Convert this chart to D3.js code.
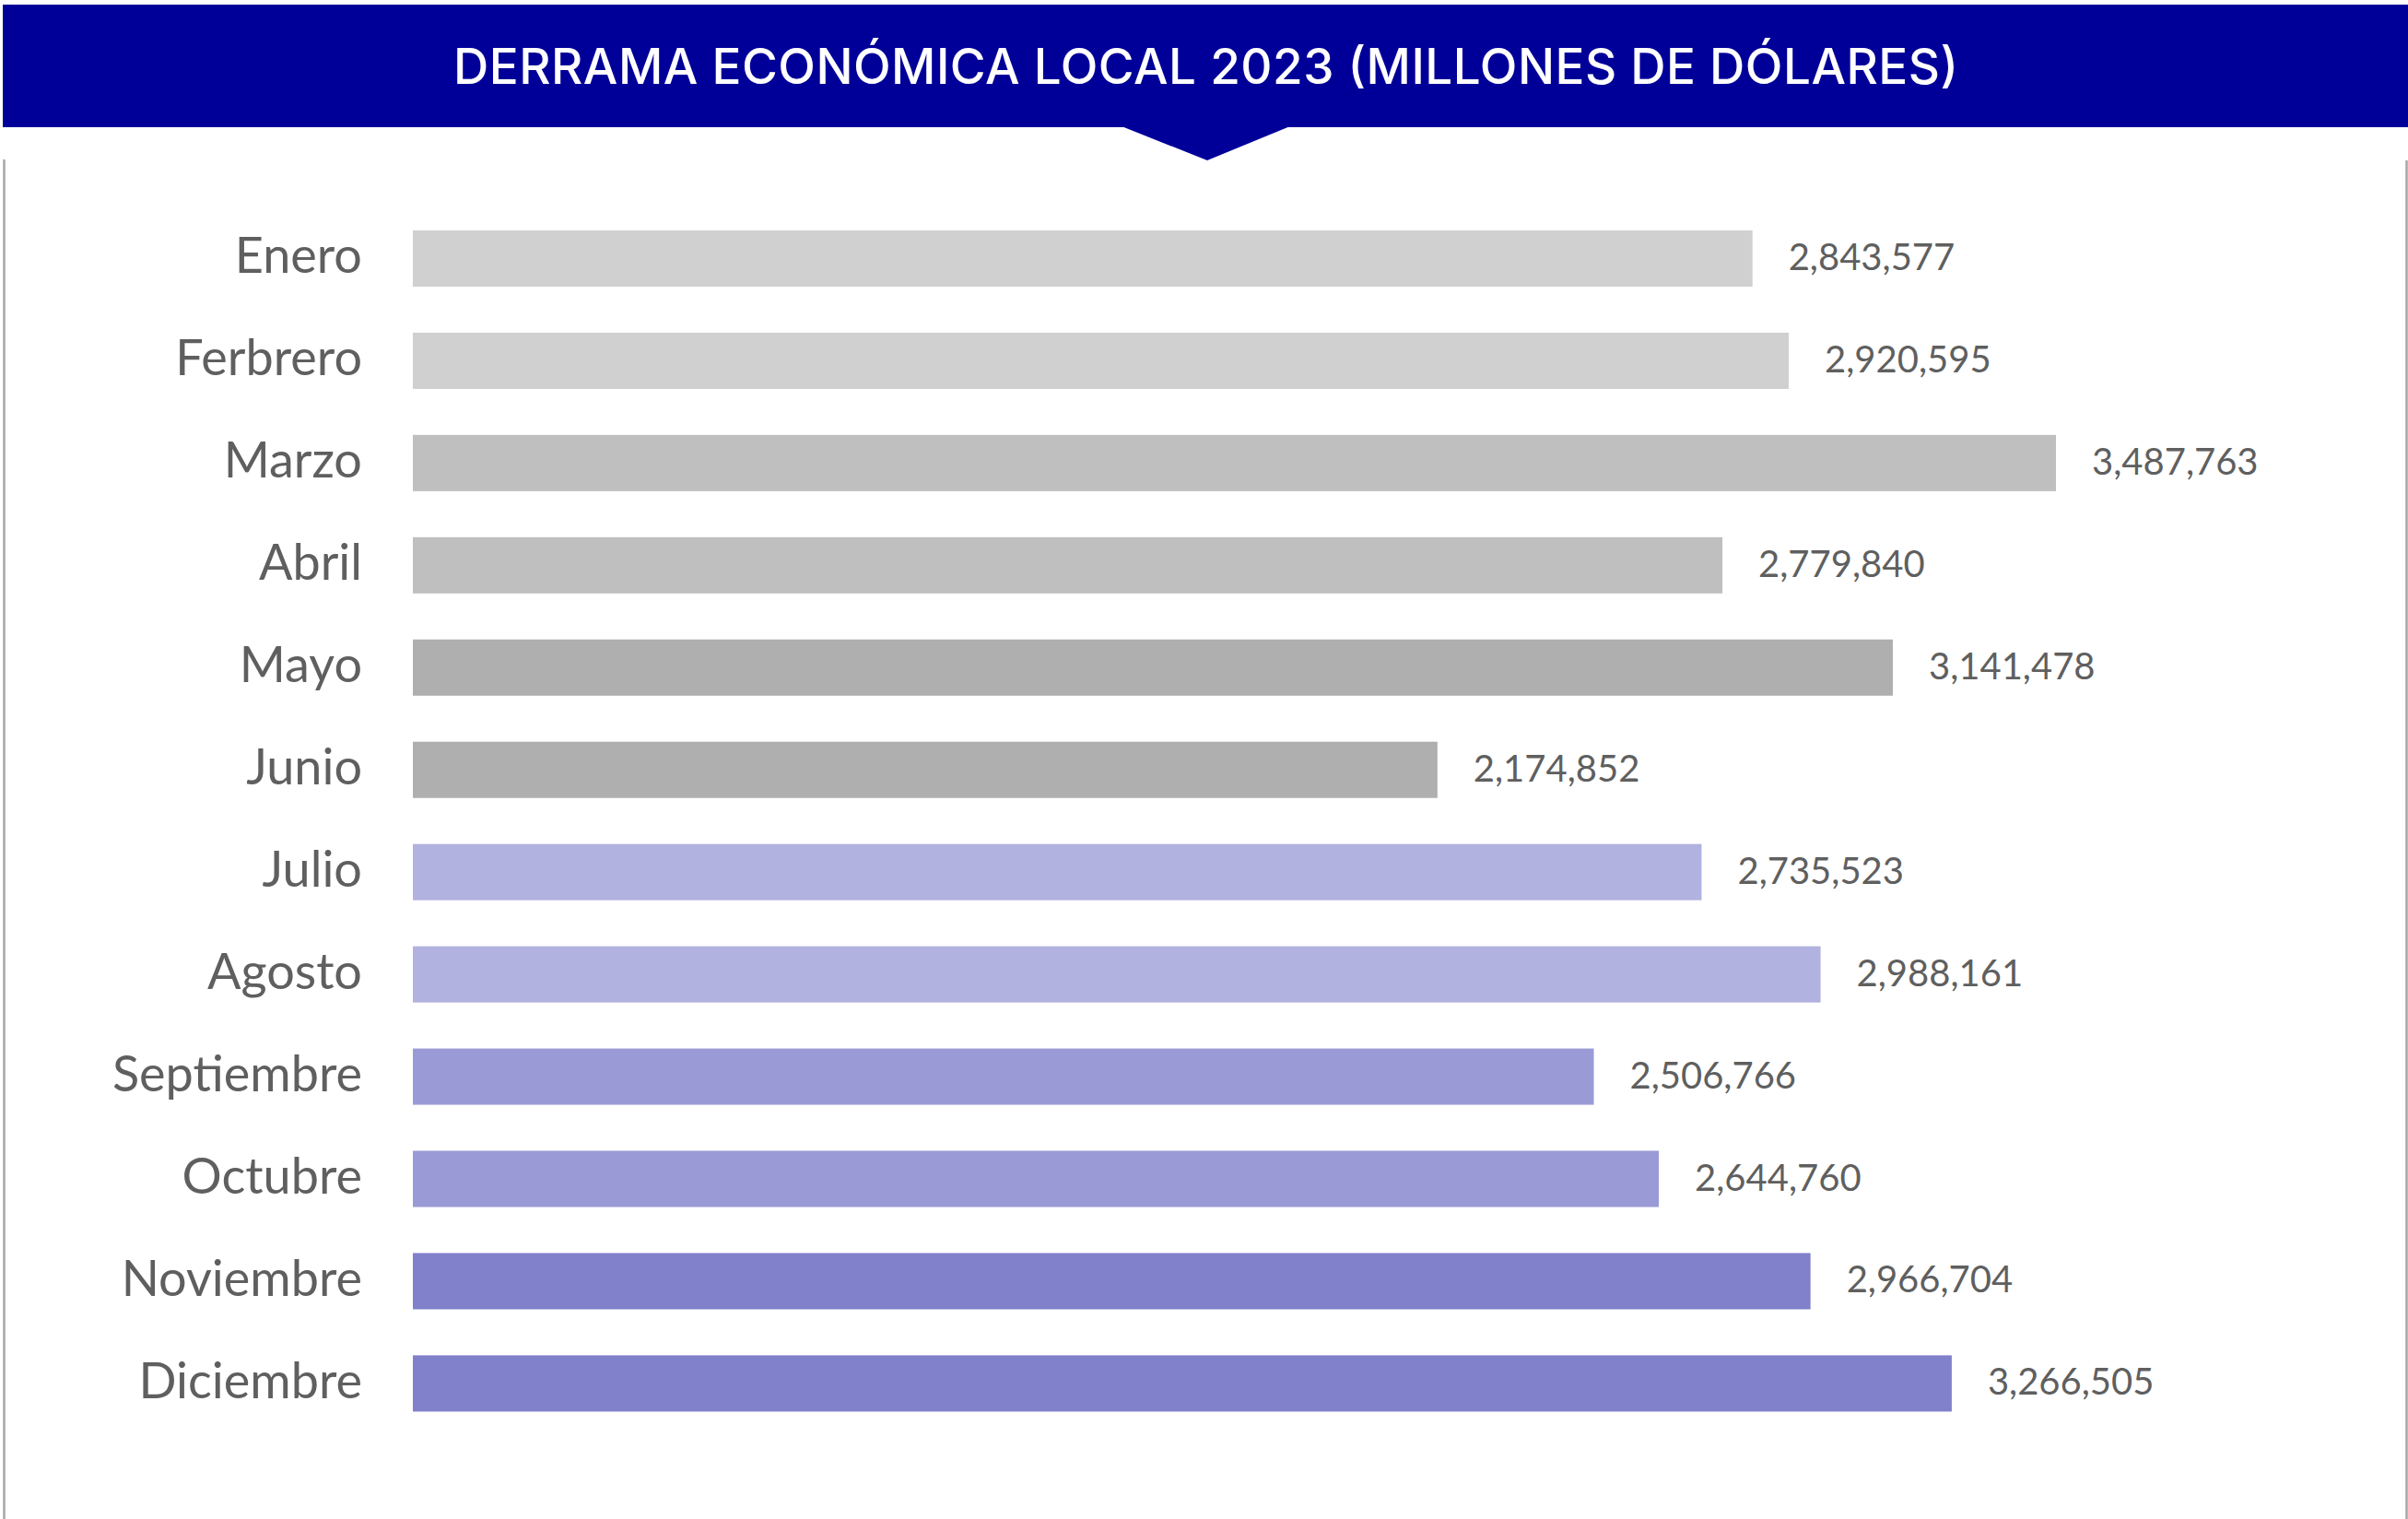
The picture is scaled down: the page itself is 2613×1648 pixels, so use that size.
<!DOCTYPE html>
<html>
<head>
<meta charset="utf-8">
<script src="https://cdn.jsdelivr.net/npm/d3@7"></script>
<style>
  html, body { margin: 0; padding: 0; background: #ffffff; }
  svg { display: block; }
</style>
</head>
<body>
<svg id="chart" width="2613" height="1648"></svg>
<script>
const title = "DERRAMA ECONÓMICA LOCAL 2023 (MILLONES DE DÓLARES)";
const months = ["Enero", "Ferbrero", "Marzo", "Abril", "Mayo", "Junio", "Julio", "Agosto", "Septiembre", "Octubre", "Noviembre", "Diciembre"];
const values = [2843577, 2920595, 3487763, 2779840, 3141478, 2174852, 2735523, 2988161, 2506766, 2644760, 2966704, 3266505];
const barColors = ["#d0d0d0", "#d0d0d0", "#bfbfbf", "#bfbfbf", "#afafaf", "#afafaf", "#b2b2e0", "#b2b2e0", "#9a9ad6", "#9a9ad6", "#8080cb", "#8080cb"];

const W = 2613, H = 1648;
const svg = d3.select("#chart");

// Header banner
const headerBlue = "#000099";
svg.append("rect").attr("x", 3).attr("y", 5).attr("width", W - 3).attr("height", 133).attr("fill", headerBlue);
svg.append("path")
  .attr("d", d3.line()([[1217, 137], [1400, 137], [1310, 174]]) + "Z")
  .attr("fill", headerBlue);
svg.append("text")
  .attr("x", 1308.5).attr("y", 91)
  .attr("text-anchor", "middle")
  .attr("font-family", "Inter, 'Noto Sans', sans-serif")
  .attr("font-weight", 500)
  .attr("font-size", 53)
  .attr("fill", "#ffffff")
  .attr("textLength", 1633)
  .attr("lengthAdjust", "spacing")
  .text(title);

// Side frame lines
svg.append("line").attr("x1", 4.5).attr("x2", 4.5).attr("y1", 173).attr("y2", H)
  .attr("stroke", "#a6a6a6").attr("stroke-width", 2.5);
svg.append("line").attr("x1", 2611.5).attr("x2", 2611.5).attr("y1", 174).attr("y2", H)
  .attr("stroke", "#a6a6a6").attr("stroke-width", 2.5);

// Scales
const x = d3.scaleLinear().domain([0, 3487763]).range([448, 2231]);
const y = d3.scaleBand().domain(months).range([225, 1556.4]).paddingInner(0.45).paddingOuter(0.225);

const g = svg.append("g");

g.selectAll("rect.bar")
  .data(months)
  .join("rect")
  .attr("class", "bar")
  .attr("x", x(0))
  .attr("y", d => y(d))
  .attr("width", (d, i) => x(values[i]) - x(0))
  .attr("height", y.bandwidth())
  .attr("fill", (d, i) => barColors[i]);

// Category axis labels
const yAxis = d3.axisLeft(y).tickSize(0).tickPadding(0);
const ax = svg.append("g").attr("transform", "translate(393,0)").call(yAxis);
ax.select(".domain").remove();
ax.selectAll("text")
  .attr("x", 0)
  .attr("dy", null)
  .attr("y", 16)
  .attr("font-family", "Lato, sans-serif")
  .attr("font-size", 54)
  .attr("fill", "#5f5f5f");

// Value labels
const fmt = d3.format(",");
g.selectAll("text.val")
  .data(months)
  .join("text")
  .attr("class", "val")
  .attr("x", (d, i) => x(values[i]) + 39)
  .attr("y", d => y(d) + y.bandwidth() / 2 + 12.5)
  .attr("font-family", "Lato, sans-serif")
  .attr("font-size", 40)
  .attr("fill", "#5f5f5f")
  .text((d, i) => fmt(values[i]));
</script>
</body>
</html>
